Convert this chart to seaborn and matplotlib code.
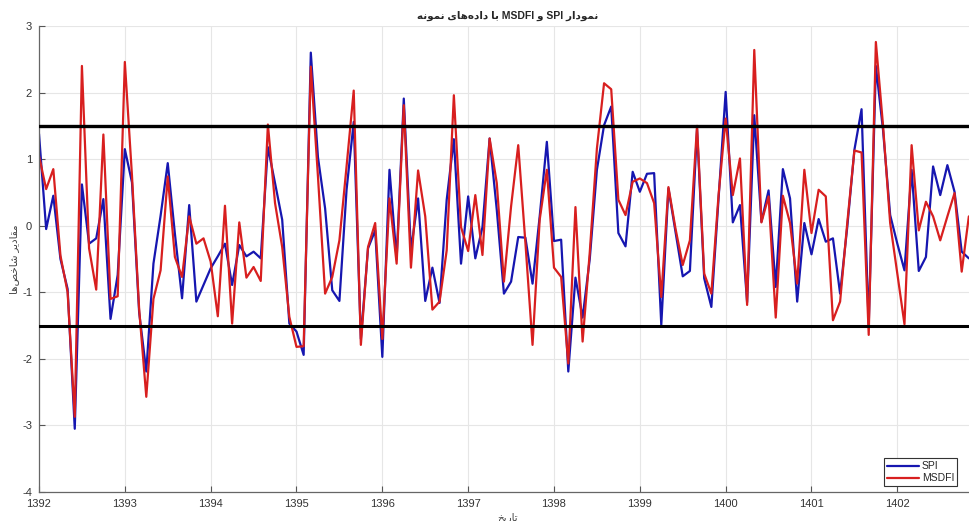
import numpy as np
import pandas as pd
import matplotlib
matplotlib.use("Agg")
import matplotlib.pyplot as plt
import seaborn as sns

# monthly values, 1392/01 onwards
spi = [1.38, -0.05, 0.45, -0.50, -0.95, -3.05, 0.62, -0.27, -0.19, 0.40, -1.40, -0.74,
       1.15, 0.65, -1.30, -2.19, -0.57, 0.15, 0.94, -0.12, -1.09, 0.31, -1.14, -0.89,
       -0.64, -0.46, -0.27, -0.89, -0.29, -0.46, -0.39, -0.49, 1.18, 0.64, 0.09, -1.47,
       -1.59, -1.94, 2.60, 1.03, 0.26, -0.97, -1.13, 0.54, 1.56, -1.70, -0.34, -0.07,
       -1.97, 0.84, -0.50, 1.91, -0.37, 0.41, -1.13, -0.63, -1.16, 0.39, 1.30, -0.57,
       0.44, -0.49, -0.02, 1.31, 0.24, -1.02, -0.84, -0.17, -0.18, -0.87, 0.14, 1.26,
       -0.23, -0.21, -2.19, -0.78, -1.38, -0.50, 0.84, 1.51, 1.79, -0.11, -0.31, 0.81,
       0.51, 0.78, 0.79, -1.49, 0.56, -0.10, -0.76, -0.68, 1.45, -0.79, -1.22, 0.40,
       2.01, 0.05, 0.31, -1.15, 1.66, 0.06, 0.53, -0.92, 0.85, 0.41, -1.14, 0.04,
       -0.43, 0.10, -0.24, -0.19, -1.02, -0.02, 1.14, 1.75, -1.50, 2.40, 1.44, 0.16,
       -0.27, -0.67, 0.84, -0.68, -0.47, 0.89, 0.46, 0.91, 0.51, -0.39, -0.49]

msdfi = [1.05, 0.55, 0.85, -0.45, -1.00, -2.87, 2.40, -0.34, -0.96, 1.37, -1.10, -1.06,
         2.46, 0.75, -1.25, -2.57, -1.10, -0.67, 0.74, -0.47, -0.77, 0.14, -0.27, -0.19,
         -0.54, -1.36, 0.30, -1.47, 0.05, -0.78, -0.62, -0.83, 1.52, 0.34, -0.32, -1.37,
         -1.82, -1.81, 2.39, 0.74, -1.02, -0.77, -0.22, 0.89, 2.03, -1.79, -0.32, 0.04,
         -1.70, 0.41, -0.57, 1.81, -0.63, 0.83, 0.14, -1.26, -1.14, -0.37, 1.96, -0.02,
         -0.38, 0.46, -0.44, 1.31, 0.64, -0.84, 0.29, 1.21, -0.25, -1.79, 0.09, 0.84,
         -0.63, -0.77, -2.07, 0.28, -1.74, -0.40, 1.16, 2.14, 2.05, 0.39, 0.16, 0.66,
         0.71, 0.64, 0.34, -1.07, 0.58, -0.05, -0.59, -0.22, 1.50, -0.72, -1.02, 0.45,
         1.61, 0.46, 1.01, -1.19, 2.64, 0.05, 0.44, -1.38, 0.45, 0.04, -0.87, 0.84,
         -0.11, 0.54, 0.44, -1.42, -1.14, 0.04, 1.13, 1.10, -1.64, 2.76, 1.51, 0.04,
         -0.72, -1.48, 1.21, -0.07, 0.36, 0.14, -0.22, 0.14, 0.49, -0.69, 0.14]

start_year = 1392
year_ticks = list(range(1392, 1403))
y_ticks = list(range(-4, 4))
threshold = 1.5

title_fa = "نمودار SPI و MSDFI با داده‌های نمونه"
xlabel_fa = "تاریخ"
ylabel_fa = "مقادیر شاخص‌ها"

# matplotlib has no arabic shaping, so pick presentation forms by hand
FORMS = {
    'ا': ('\uFE8D', '\uFE8E'),
    'د': ('\uFEA9', '\uFEAA'),
    'ر': ('\uFEAD', '\uFEAE'),
    'و': ('\uFEED', '\uFEEE'),
    'ب': ('\uFE8F', '\uFE90', '\uFE91', '\uFE92'),
    'ت': ('\uFE95', '\uFE96', '\uFE97', '\uFE98'),
    'خ': ('\uFEA5', '\uFEA6', '\uFEA7', '\uFEA8'),
    'ش': ('\uFEB5', '\uFEB6', '\uFEB7', '\uFEB8'),
    'ص': ('\uFEB9', '\uFEBA', '\uFEBB', '\uFEBC'),
    'ق': ('\uFED5', '\uFED6', '\uFED7', '\uFED8'),
    'م': ('\uFEE1', '\uFEE2', '\uFEE3', '\uFEE4'),
    'ن': ('\uFEE5', '\uFEE6', '\uFEE7', '\uFEE8'),
    'ه': ('\uFEE9', '\uFEEA', '\uFEEB', '\uFEEC'),
    'ی': ('\uFBFC', '\uFBFD', '\uFBFE', '\uFBFF'),
}


def shape_word(w):
    out = []
    for k, c in enumerate(w):
        if c not in FORMS:
            continue
        prev = w[k - 1] if k > 0 else ''
        nxt = w[k + 1] if k + 1 < len(w) else ''
        f = FORMS[c]
        join_prev = prev in FORMS and len(FORMS[prev]) == 4
        join_next = len(f) == 4 and nxt in FORMS
        if join_prev and join_next:
            out.append(f[3])
        elif join_prev:
            out.append(f[1])
        elif join_next:
            out.append(f[2])
        else:
            out.append(f[0])
    return ''.join(reversed(out))


def rtl(text):
    words = text.split(' ')
    return ' '.join(shape_word(w) if any(c in FORMS for c in w) else w
                    for w in reversed(words))


dates = start_year + np.arange(len(spi)) / 12.0
df = pd.DataFrame({'date': dates, 'SPI': spi, 'MSDFI': msdfi})

sns.set_theme(style="whitegrid")
plt.rcParams['font.family'] = ['Liberation Sans', 'DejaVu Sans']
plt.rcParams['axes.unicode_minus'] = False

fig = plt.figure(figsize=(9.7, 5.21), dpi=100)
ax = fig.add_axes([39 / 970, 29 / 521, 937 / 970, 466 / 521])

sns.lineplot(ax=ax, data=df, x='date', y='SPI', color='#1616b0', lw=1.6,
             label='SPI', estimator=None, sort=False)
sns.lineplot(ax=ax, data=df, x='date', y='MSDFI', color='#d81f1f', lw=1.6,
             label='MSDFI', estimator=None, sort=False)
ax.axhline(threshold, color='black', lw=2.4, zorder=4)
ax.axhline(-threshold, color='black', lw=2.2, zorder=4)

ax.set_xlim(1392, 1402 + 11 / 12)
ax.set_ylim(-4, 3)
ax.set_xticks(year_ticks)
ax.set_xticklabels([str(y) for y in year_ticks])
ax.set_yticks(y_ticks)

ax.grid(True, color='#e6e6e6', lw=0.8)
ax.set_facecolor('white')
for side in ['top', 'right']:
    ax.spines[side].set_visible(False)
for side in ['left', 'bottom']:
    ax.spines[side].set_color('#666666')
    ax.spines[side].set_linewidth(0.9)
ax.tick_params(axis='both', direction='in', length=4, width=0.8, color='#555555',
               labelsize=8, labelcolor='#333333', pad=5)
ax.tick_params(axis='x', bottom=True)
ax.tick_params(axis='y', left=True)

ax.set_title(rtl(title_fa), fontsize=7.5, fontweight='bold', pad=5)
ax.set_xlabel(rtl(xlabel_fa), fontsize=7.5, color='#444444', labelpad=2)
ax.set_ylabel(rtl(ylabel_fa), fontsize=7.5, color='#444444', labelpad=2)

leg = ax.legend(loc='lower right', bbox_to_anchor=(0.98, 0.012), fontsize=7.5,
                frameon=True, fancybox=False, handlelength=3.0, borderpad=0.3,
                labelspacing=0.2, handletextpad=0.3, borderaxespad=0)
leg.get_frame().set_edgecolor('#333333')
leg.get_frame().set_linewidth(0.8)
leg.get_frame().set_alpha(1)

fig.savefig('out.png', dpi=100, facecolor='white')
